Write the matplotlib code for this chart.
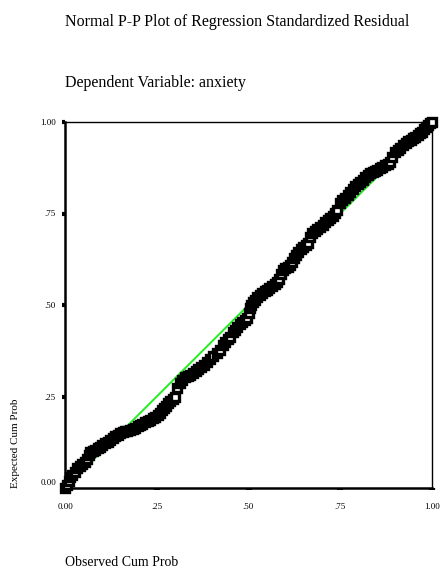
import matplotlib
matplotlib.use("Agg")
import matplotlib.pyplot as plt
from matplotlib.transforms import ScaledTranslation

plt.rcParams.update({
    "font.family": "serif",
    "font.serif": ["Liberation Serif", "DejaVu Serif"],
})

# observed cumulative probability (x) and expected cumulative probability (y)
observed = [0.000, 0.005, 0.010, 0.014, 0.020, 0.027, 0.033, 0.040, 0.047, 0.054,
            0.060, 0.065, 0.068, 0.075, 0.082, 0.090, 0.095, 0.102, 0.110, 0.117,
            0.123, 0.130, 0.137, 0.144, 0.150, 0.157, 0.164, 0.170, 0.177, 0.184,
            0.191, 0.198, 0.204, 0.211, 0.218, 0.225, 0.232, 0.239, 0.246, 0.253,
            0.259, 0.265, 0.271, 0.276, 0.281, 0.287, 0.293, 0.300, 0.305, 0.313,
            0.320, 0.327, 0.334, 0.341, 0.349, 0.356, 0.363, 0.370, 0.378, 0.387,
            0.395, 0.404, 0.413, 0.422, 0.430, 0.437, 0.444, 0.450, 0.457, 0.463,
            0.469, 0.476, 0.483, 0.490, 0.496, 0.500, 0.504, 0.508, 0.512, 0.517,
            0.523, 0.530, 0.537, 0.544, 0.550, 0.557, 0.564, 0.571, 0.578, 0.584,
            0.589, 0.594, 0.600, 0.607, 0.613, 0.619, 0.625, 0.630, 0.635, 0.642,
            0.649, 0.656, 0.662, 0.667, 0.673, 0.680, 0.688, 0.695, 0.702, 0.709,
            0.716, 0.722, 0.729, 0.735, 0.741, 0.748, 0.755, 0.763, 0.770, 0.777,
            0.784, 0.791, 0.798, 0.804, 0.811, 0.818, 0.825, 0.831, 0.838, 0.845,
            0.851, 0.858, 0.865, 0.872, 0.879, 0.886, 0.892, 0.899, 0.906, 0.914,
            0.921, 0.928, 0.935, 0.942, 0.948, 0.955, 0.961, 0.967, 0.973, 0.979,
            0.984, 0.989, 0.995, 1.000]
expected = [0.000, 0.008, 0.018, 0.030, 0.036, 0.045, 0.055, 0.060, 0.065, 0.071,
            0.078, 0.090, 0.098, 0.101, 0.104, 0.108, 0.112, 0.117, 0.122, 0.126,
            0.131, 0.136, 0.141, 0.146, 0.150, 0.153, 0.155, 0.156, 0.158, 0.162,
            0.165, 0.169, 0.172, 0.176, 0.180, 0.183, 0.186, 0.190, 0.195, 0.200,
            0.205, 0.212, 0.218, 0.225, 0.232, 0.238, 0.243, 0.249, 0.273, 0.288,
            0.296, 0.302, 0.306, 0.310, 0.314, 0.320, 0.326, 0.331, 0.337, 0.344,
            0.352, 0.360, 0.368, 0.377, 0.390, 0.400, 0.407, 0.413, 0.425, 0.433,
            0.440, 0.447, 0.453, 0.459, 0.464, 0.478, 0.492, 0.500, 0.508, 0.515,
            0.522, 0.528, 0.533, 0.537, 0.541, 0.546, 0.552, 0.558, 0.563, 0.570,
            0.585, 0.596, 0.600, 0.604, 0.609, 0.618, 0.628, 0.637, 0.645, 0.652,
            0.658, 0.663, 0.669, 0.685, 0.697, 0.702, 0.707, 0.713, 0.719, 0.726,
            0.732, 0.738, 0.744, 0.752, 0.760, 0.778, 0.786, 0.793, 0.800, 0.810,
            0.818, 0.824, 0.830, 0.836, 0.842, 0.850, 0.856, 0.861, 0.864, 0.867,
            0.870, 0.874, 0.878, 0.882, 0.886, 0.891, 0.904, 0.918, 0.924, 0.930,
            0.937, 0.942, 0.947, 0.951, 0.956, 0.960, 0.965, 0.969, 0.973, 0.980,
            0.986, 0.992, 0.996, 1.000]

ticks = [0.0, 0.25, 0.5, 0.75, 1.0]
tick_labels = ["0.00", ".25", ".50", ".75", "1.00"]

fig = plt.figure(figsize=(4.41, 5.76), dpi=100)
ax = fig.add_axes([65 / 441, 1 - 488 / 576, 367 / 441, 366 / 576])

ax.plot([0, 1], [0, 1], color="#22ee22", linewidth=1.4, zorder=2)
ax.plot(observed, expected, linestyle="none", marker="s", markersize=5.5,
        markerfacecolor="white", markeredgecolor="black", markeredgewidth=2.4,
        clip_on=False, zorder=3)

ax.set_xlim(0, 1)
ax.set_ylim(0, 1)
ax.set_xticks(ticks)
ax.set_xticklabels(tick_labels)
ax.set_yticks(ticks)
ax.set_yticklabels(tick_labels)

for side in ["left", "bottom"]:
    ax.spines[side].set_linewidth(1.8)
for side in ["top", "right"]:
    ax.spines[side].set_linewidth(1.0)

ax.tick_params(axis="y", direction="out", length=2.5, width=3, pad=4, labelsize=6.5)
ax.tick_params(axis="x", direction="out", length=1.5, width=4.5, pad=9, labelsize=6.5)

# lowest y label sits a bit above the corner
lab0 = ax.get_yticklabels()[0]
lab0.set_transform(lab0.get_transform() + ScaledTranslation(0, 6 / 100, fig.dpi_scale_trans))

fig.text(65 / 441, 1 - 22 / 576, "Normal P-P Plot of Regression Standardized Residual",
         fontsize=11.5, ha="left", va="center")
fig.text(65 / 441, 1 - 83 / 576, "Dependent Variable: anxiety",
         fontsize=11.5, ha="left", va="center")
fig.text(65 / 441, 1 - 562 / 576, "Observed Cum Prob",
         fontsize=10, ha="left", va="center")
fig.text(15 / 441, 1 - 488 / 576, "Expected Cum Prob",
         fontsize=8, rotation=90, ha="center", va="bottom")

fig.savefig("out.png", dpi=100)
